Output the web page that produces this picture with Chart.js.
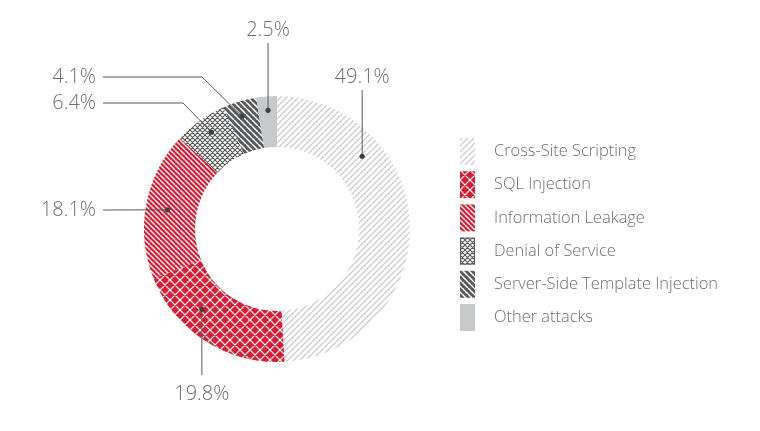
<!DOCTYPE html>
<html>
<head>
<meta charset="utf-8">
<script src="https://cdn.jsdelivr.net/npm/chart.js@4.4.1/dist/chart.umd.min.js"></script>
<style>
  html, body { margin: 0; padding: 0; background: #fff; }
  #wrap { width: 760px; height: 431px; }
</style>
</head>
<body>
<div id="wrap"><canvas id="attackChart" width="760" height="431"></canvas></div>
<script>
// Data
const categories = ['Cross-Site Scripting', 'SQL Injection', 'Information Leakage',
  'Denial of Service', 'Server-Side Template Injection', 'Other attacks'];
const shares = [49.1, 19.8, 18.1, 6.4, 4.1, 2.5];
const shareLabels = ['49.1%', '19.8%', '18.1%', '6.4%', '4.1%', '2.5%'];

// Colors
const RED = '#d71d35';
const DARK = '#58595b';
const LIGHT_LINE = '#cbcbcc';
const OTHER = '#c8c9cb';
const TEXT = '#6d6e71';
const FONT = '"Open Sans", "Segoe UI", sans-serif';

// --- pattern helpers ---
function makeTile(size, bg) {
  const c = document.createElement('canvas');
  c.width = c.height = size;
  const g = c.getContext('2d');
  if (bg) { g.fillStyle = bg; g.fillRect(0, 0, size, size); }
  return { c, g };
}

function drawDiag(g, size, dir) {
  for (let k = -size; k <= size; k += size) {
    if (dir === '/') { g.moveTo(k, size); g.lineTo(k + size, 0); }
    else { g.moveTo(k, 0); g.lineTo(k + size, size); }
  }
}

function stripes(bg, fg, size, lw, dir) {
  const { c, g } = makeTile(size, bg);
  g.strokeStyle = fg; g.lineWidth = lw;
  g.beginPath(); drawDiag(g, size, dir); g.stroke();
  return g.createPattern(c, 'repeat');
}

function crosshatch(bg, fg, size, lw) {
  const { c, g } = makeTile(size, bg);
  g.strokeStyle = fg; g.lineWidth = lw;
  g.beginPath(); drawDiag(g, size, '/'); drawDiag(g, size, '\\'); g.stroke();
  return g.createPattern(c, 'repeat');
}

const ctx = document.getElementById('attackChart').getContext('2d');

const fills = [
  stripes('#ffffff', LIGHT_LINE, 6, 1.3, '/'),   // XSS
  crosshatch(RED, '#ffffff', 10, 1.2),           // SQL
  stripes(RED, '#ffffff', 5, 1.3, '\\'),         // Info leak
  crosshatch('#ffffff', DARK, 5, 1.1),           // DoS
  stripes(DARK, '#ffffff', 6, 1.5, '\\'),        // SSTI
  OTHER                                          // Other
];

// where each callout sits: fraction along the slice, radius, and label style
const callouts = [
  { frac: 0.28, r: 112, kind: 'up', endY: 90, textY: 77 },
  { frac: 0.65, r: 110, kind: 'down', endY: 375, textY: 394 },
  { frac: 0.49, r: 111, kind: 'left', elbowX: null, rowY: 210 },
  { frac: 0.55, r: 117, kind: 'left', elbowX: 183, rowY: 103 },
  { frac: 0.44, r: 118, kind: 'left', elbowX: 202, rowY: 77 },
  { frac: 0.52, r: 119, kind: 'up', endY: 43, textY: 30 }
];
const leftLineX = 103;

const calloutPlugin = {
  id: 'callouts',
  afterDatasetsDraw(chart) {
    const c = chart.ctx;
    const arcs = chart.getDatasetMeta(0).data;
    c.save();
    c.strokeStyle = DARK;
    c.lineWidth = 1;
    c.font = '300 20px ' + FONT;
    c.textBaseline = 'middle';
    arcs.forEach((arc, i) => {
      const o = callouts[i];
      const a = arc.startAngle + o.frac * (arc.endAngle - arc.startAngle);
      const px = arc.x + o.r * Math.cos(a);
      const py = arc.y + o.r * Math.sin(a);
      c.beginPath();
      c.moveTo(px, py);
      c.fillStyle = TEXT;
      if (o.kind === 'up' || o.kind === 'down') {
        c.lineTo(px, o.endY);
        c.stroke();
        c.textAlign = 'center';
        c.fillText(shareLabels[i], px, o.textY);
      } else {
        if (o.elbowX !== null) c.lineTo(o.elbowX, o.rowY);
        c.lineTo(leftLineX, o.rowY);
        c.stroke();
        c.textAlign = 'right';
        c.fillText(shareLabels[i], leftLineX - 7, o.rowY);
      }
      c.beginPath();
      c.fillStyle = '#3f4042';
      c.arc(px, py, 2.6, 0, Math.PI * 2);
      c.fill();
    });
    c.restore();
  }
};

const legendPlugin = {
  id: 'sideLegend',
  afterDraw(chart) {
    const c = chart.ctx;
    const x0 = 460, y0 = 138, step = 33.2, bw = 15, bh = 27;
    c.save();
    c.font = '300 16.4px ' + FONT;
    c.textAlign = 'left';
    c.textBaseline = 'middle';
    chart.data.labels.forEach((label, i) => {
      const y = y0 + i * step;
      c.fillStyle = chart.data.datasets[0].backgroundColor[i];
      c.fillRect(x0, y, bw, bh);
      if (i === 3) {
        c.strokeStyle = DARK; c.lineWidth = 1;
        c.strokeRect(x0 + 0.5, y + 0.5, bw - 1, bh - 1);
      }
      c.fillStyle = TEXT;
      c.fillText(label, 494, y + bh / 2);
    });
    c.restore();
  }
};

new Chart(ctx, {
  type: 'doughnut',
  data: {
    labels: categories,
    datasets: [{
      data: shares,
      backgroundColor: fills,
      borderWidth: 0
    }]
  },
  options: {
    responsive: false,
    animation: false,
    radius: 133,
    cutout: 82,
    layout: { padding: { left: 144, right: 350, top: 96, bottom: 69 } },
    plugins: {
      legend: { display: false },
      tooltip: { enabled: false }
    }
  },
  plugins: [calloutPlugin, legendPlugin]
});
</script>
</body>
</html>
